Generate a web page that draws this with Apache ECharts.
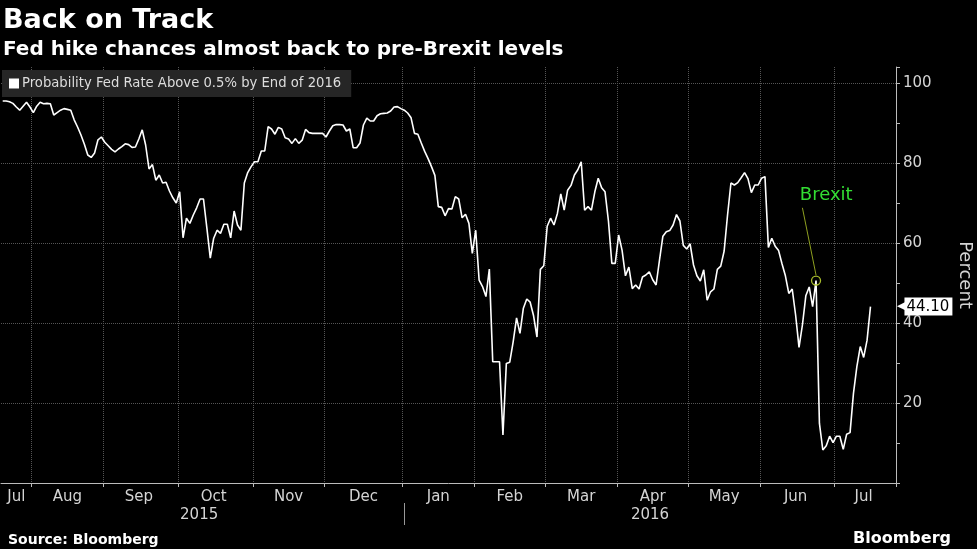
<!DOCTYPE html>
<html>
<head>
<meta charset="utf-8">
<script src="https://cdn.jsdelivr.net/npm/echarts@6/dist/echarts.min.js"></script>
<style>
html,body{margin:0;padding:0;background:#000;}
#chart{width:977px;height:549px;}
</style>
</head>
<body>
<div id="chart"></div>
<script>
// ---- data ----
const firstDay = '2015-07-21';
const lastDay = '2016-07-26';
const missingDays = ['2016-03-25', '2016-03-28', '2016-05-30'];
const monthNames = ['Jan','Feb','Mar','Apr','May','Jun','Jul','Aug','Sep','Oct','Nov','Dec'];
const seriesName = 'Probability Fed Rate Above 0.5% by End of 2016';
const probability = [
95.5,95.5,95.3,94.9,94,93.2,94.2,95.2,94,92.6,
94.2,95.2,94.8,94.9,94.8,92,92.6,93.2,93.6,93.4,
93.2,90.8,89,87,84.7,82,81.4,82.5,85.8,86.5,
85.2,84.3,83.4,82.8,83.5,84.1,84.8,84.6,83.9,84,
86,88.3,84.5,78.5,79.6,75.7,77,75,75.2,73,
71.3,70,72.8,61.3,66.2,64.9,67,68.8,71,71,
63.7,56.2,61.2,63.2,62.4,64.7,64.7,61.3,68,64.5,
63.2,75,77.6,79.1,80.3,80.3,83,83,89.1,88.5,
87.2,88.9,88.5,86.3,86,84.9,86.1,84.9,85.7,88.4,
87.6,87.4,87.4,87.4,87.4,86.5,88,89.3,89.6,89.6,
89.5,88,88.5,83.8,83.8,85,89.5,91.2,90.5,90.5,
91.8,92.3,92.4,92.5,93,94,94.1,93.6,93.2,92.5,
91.3,87.4,87.2,85,82.9,81.1,79.1,76.9,69.1,68.9,
66.8,68.6,68.5,71.6,71,66.3,67.2,64.9,57.4,63.2,
50.7,49.1,46.6,53.5,30.3,30.3,30.3,12,29.9,30.2,
35.3,41.3,37.4,43.7,46,45.2,41.8,36.5,53.4,54.3,
64.2,66.2,64.5,67.4,72.3,68.2,73.2,74.4,77,78.3,
80.3,68.2,69.1,68.2,72.8,76.2,73.8,72.8,65.5,54.9,
54.9,62,58.2,51.8,54,48.6,49.5,48.5,51.5,52,
52.8,50.8,49.5,55.7,61.7,62.8,63.1,64.5,67.1,65.5,
59.4,58.5,59.8,54.5,51.8,50.5,53.3,45.7,47.8,48.5,
53.4,54.2,58,67,75,74.5,75.1,76.3,77.6,76.1,
72.6,74.5,74.5,76.2,76.6,58.9,61.2,59.2,58.1,54.8,
51.8,47.4,48.5,42,33.9,39.5,46.8,49,44.1,50.6,
14.9,8.25,9.3,11.7,10.1,11.7,11.7,8.4,12.2,12.6,
22.4,29.1,34.1,31.4,35.7,44.1
];
const brexitDate = '2016-06-23';
const lastValueLabel = '44.10';

// ---- trading-day categories ----
const dates = [];
{
  let d = new Date(firstDay + 'T00:00:00Z');
  const end = new Date(lastDay + 'T00:00:00Z');
  while (d <= end) {
    const wd = d.getUTCDay();
    const s = d.toISOString().slice(0, 10);
    if (wd !== 0 && wd !== 6 && missingDays.indexOf(s) < 0) dates.push(s);
    d = new Date(d.getTime() + 86400000);
  }
}
const monthStart = new Set();
const monthMid = new Set();
const yearMid = new Set();
const yearStart = new Set();
{
  let runStart = 0;
  for (let i = 1; i <= dates.length; i++) {
    if (i === dates.length || dates[i].slice(0, 7) !== dates[i - 1].slice(0, 7)) {
      monthMid.add(Math.floor((runStart + i - 1) / 2));
      if (i < dates.length) monthStart.add(i);
      runStart = i;
    }
  }
  runStart = 0;
  for (let i = 1; i <= dates.length; i++) {
    if (i === dates.length || dates[i].slice(0, 4) !== dates[i - 1].slice(0, 4)) {
      yearMid.add(Math.floor((runStart + i - 1) / 2));
      if (i < dates.length) yearStart.add(i);
      runStart = i;
    }
  }
}
const brexitIdx = dates.indexOf(brexitDate);
const lastIdx = probability.length - 1;

const FONT = 'DejaVu Sans';
const chart = echarts.init(document.getElementById('chart'), null, {renderer: 'canvas'});
chart.setOption({
  backgroundColor: '#000',
  animation: false,
  textStyle: {fontFamily: FONT},
  title: [
    {text: 'Back on Track', left: 3, top: 7, padding: 0, textStyle: {color: '#fff', fontSize: 27, fontWeight: 'bold', fontFamily: FONT}},
    {text: 'Fed hike chances almost back to pre-Brexit levels', left: 3, top: 40, padding: 0, textStyle: {color: '#fff', fontSize: 20, fontWeight: 'bold', fontFamily: FONT}},
    {text: 'Source: Bloomberg', left: 8, top: 533, padding: 0, textStyle: {color: '#fff', fontSize: 14, fontWeight: 'bold', fontFamily: FONT}},
    {text: 'Bloomberg', left: 853, top: 531, padding: 0, textStyle: {color: '#fff', fontSize: 16, fontWeight: 'bold', fontFamily: FONT}}
  ],
  legend: {
    left: 2, top: 70,
    backgroundColor: '#262626',
    padding: [7, 10, 7, 7],
    itemWidth: 10, itemHeight: 10, itemGap: 4,
    icon: 'rect',
    textStyle: {color: '#ddd', fontSize: 13.2, fontFamily: FONT, padding: [0, 0, 0, -2]},
    data: [seriesName]
  },
  grid: {left: 1, right: 81, top: 67, bottom: 66, containLabel: false, outerBoundsMode: 'none'},
  xAxis: [
    {
      type: 'category',
      data: dates,
      boundaryGap: true,
      axisLine: {show: true, lineStyle: {color: '#bbb', width: 1}},
      axisTick: {show: true, length: 4, interval: (i) => monthStart.has(i), lineStyle: {color: '#bbb'}},
      axisLabel: {
        interval: (i) => monthMid.has(i),
        formatter: (v) => monthNames[parseInt(v.slice(5, 7), 10) - 1],
        color: '#d4d4d4', fontSize: 15, margin: 7, fontFamily: FONT
      },
      splitLine: {show: true, interval: (i) => monthStart.has(i), lineStyle: {color: '#555', type: 'dotted', width: 1}}
    },
    {
      type: 'category',
      data: dates,
      boundaryGap: false,
      position: 'bottom',
      offset: 20,
      axisLine: {show: false},
      axisTick: {show: true, length: 22, interval: (i) => yearStart.has(i), lineStyle: {color: '#999'}},
      axisLabel: {
        interval: (i) => yearMid.has(i),
        formatter: (v) => v.slice(0, 4),
        color: '#d4d4d4', fontSize: 15, margin: 5, fontFamily: FONT
      },
      splitLine: {show: false}
    }
  ],
  yAxis: {
    type: 'value',
    position: 'right',
    min: 0, max: 104, interval: 20,
    axisLine: {show: true, lineStyle: {color: '#bbb', width: 1}},
    axisTick: {show: true, length: 4, lineStyle: {color: '#bbb'}},
    minorTick: {show: true, splitNumber: 2, length: 4, lineStyle: {color: '#bbb'}},
    axisLabel: {color: '#d4d4d4', fontSize: 15, margin: 7, showMinLabel: false, showMaxLabel: false, fontFamily: FONT},
    splitLine: {show: true, lineStyle: {color: ['transparent', '#555', '#555', '#555', '#555', '#555', 'transparent'], type: 'dotted'}},
    name: 'Percent',
    nameLocation: 'middle',
    nameRotate: -90,
    nameGap: 60,
    nameTextStyle: {color: '#d4d4d4', fontSize: 18, fontFamily: FONT}
  },
  series: [{
    name: seriesName,
    type: 'line',
    data: probability,
    symbol: 'none',
    lineStyle: {color: '#fff', width: 1.6},
    itemStyle: {color: '#fff'},
    markPoint: {
      silent: true,
      data: [
        {coord: [brexitIdx, probability[brexitIdx]], symbol: 'circle', symbolSize: 9,
         itemStyle: {color: 'rgba(0,0,0,0)', borderColor: '#a8bc2c', borderWidth: 1.3}, label: {show: false}},
        {coord: [brexitIdx + 3, 72], symbol: 'circle', symbolSize: 0,
         label: {show: true, position: 'inside', formatter: 'Brexit', color: '#33dd33', fontSize: 18, fontFamily: FONT}}
      ]
    },
    markLine: {
      silent: true,
      symbol: ['none', 'none'],
      data: [
        [{coord: [brexitIdx - 4, 68.8], lineStyle: {color: '#8fa020', width: 1, type: 'solid'}, label: {show: false}},
         {coord: [brexitIdx, 52]}],
        {yAxis: probability[lastIdx], lineStyle: {color: 'rgba(0,0,0,0)', width: 0},
         label: {show: true, position: 'end', distance: 1, opacity: 1,
           formatter: '{a|◀}{b|' + lastValueLabel + '}',
           rich: {
             a: {color: '#fff', fontSize: 11, fontFamily: FONT, padding: [0, -1, 0, 0]},
             b: {color: '#000', backgroundColor: '#fff', fontSize: 15, fontFamily: FONT, padding: [2, 3, 1, 2]}
           }}}
      ]
    }
  }]
});
</script>
</body>
</html>
